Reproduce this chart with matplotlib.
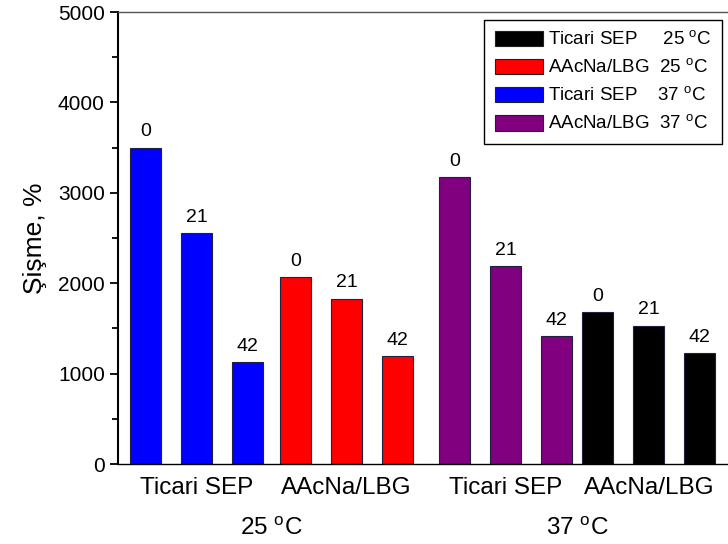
import numpy as np
import matplotlib
matplotlib.use('Agg')
import matplotlib.pyplot as plt
from matplotlib.patches import Patch

plt.rcParams['font.family'] = ['Liberation Sans', 'DejaVu Sans']
plt.rcParams['mathtext.fontset'] = 'custom'
plt.rcParams['mathtext.rm'] = 'Liberation Sans'

# data
materials = ['Ticari SEP', 'AAcNa/LBG', 'Ticari SEP', 'AAcNa/LBG']
temps = ['25 $^{\\mathrm{o}}$C', '37 $^{\\mathrm{o}}$C']
days = ['0', '21', '42']
ticari_25 = [3500, 2550, 1125]
aacna_25 = [2070, 1830, 1190]
ticari_37 = [3170, 2190, 1413]
aacna_37 = [1678, 1530, 1224]
series = [ticari_25, aacna_25, ticari_37, aacna_37]
colors = ['#0000ff', '#ff0000', '#800080', '#000000']
legend_labels = ['Ticari SEP     25 $^{\\mathrm{o}}$C',
                 'AAcNa/LBG  25 $^{\\mathrm{o}}$C',
                 'Ticari SEP    37 $^{\\mathrm{o}}$C',
                 'AAcNa/LBG  37 $^{\\mathrm{o}}$C']
legend_colors = ['#000000', '#ff0000', '#0000ff', '#800080']

# group start positions (Origin layout is a bit uneven)
group_start = [0, 2.94, 6.06, 8.87]
width = 0.61

fig = plt.figure(figsize=(7.28, 5.44), dpi=100)
ax = fig.add_axes([118 / 728, 80 / 544, 612 / 728, 452 / 544])

centers = []
for g, vals in enumerate(series):
    xs = group_start[g] + np.arange(len(vals))
    ax.bar(xs, vals, width=width, color=colors[g], edgecolor='#202040', linewidth=0.8)
    for x, v, d in zip(xs, vals, days):
        ax.text(x, v + 80, d, ha='center', va='bottom', fontsize=14)
    centers.append(xs.mean())

ax.set_xlim(-0.54, 11.46)
ax.set_ylim(0, 5000)
ax.set_yticks(np.arange(0, 5001, 1000))
ax.set_yticks(np.arange(500, 5000, 1000), minor=True)
ax.tick_params(axis='y', which='major', labelsize=15, length=6, width=1.3, direction='out')
ax.tick_params(axis='y', which='minor', length=4, width=1.3, direction='out')
ax.set_xticks(centers)
ax.set_xticklabels(materials, fontsize=17.5)
ax.tick_params(axis='x', length=0, pad=9)
ax.set_ylabel('Şişme, %', fontsize=19, labelpad=8)

ax.spines['left'].set_linewidth(1.5)
ax.spines['bottom'].set_linewidth(1.0)
ax.spines['top'].set_linewidth(1.0)
ax.spines['top'].set_color('#555555')
ax.spines['right'].set_visible(False)

for t, (a, b) in zip(temps, [(0, 1), (2, 3)]):
    ax.text((centers[a] + centers[b]) / 2, -0.143, t, transform=ax.get_xaxis_transform(),
            ha='center', va='center', fontsize=17.5)

handles = [Patch(facecolor=c, edgecolor='#202020', linewidth=0.8) for c in legend_colors]
leg = fig.legend(handles, legend_labels, loc='upper right', bbox_to_anchor=(722 / 728, 1 - 20 / 544),
                 fontsize=13.5, handlelength=2.56, handleheight=0.9, handletextpad=0.3,
                 labelspacing=0.5, borderpad=0.55, borderaxespad=0, fancybox=False,
                 framealpha=1, edgecolor='black')
leg.get_frame().set_linewidth(1.0)

fig.savefig('out.png', dpi=100)
